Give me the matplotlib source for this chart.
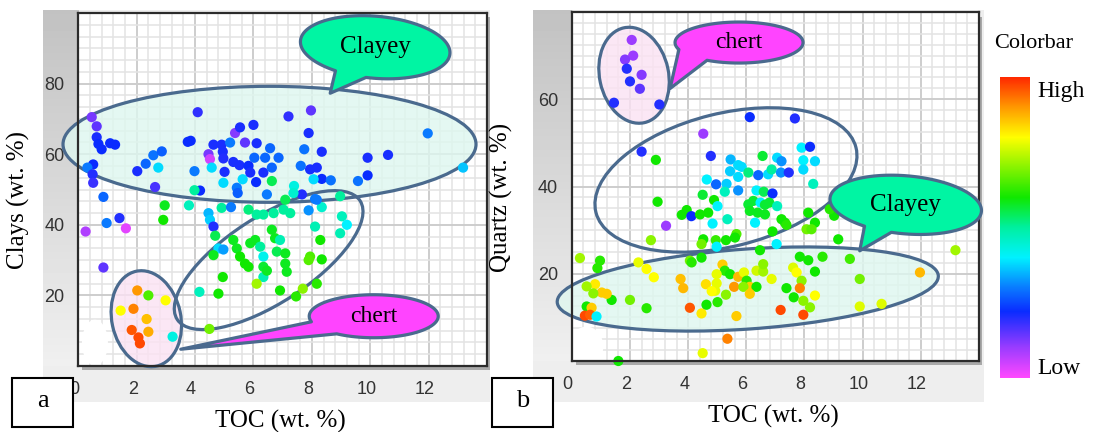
import numpy as np
import matplotlib
matplotlib.use("Agg")
import matplotlib.pyplot as plt
import matplotlib.transforms as mtransforms
from matplotlib.patches import Ellipse, Polygon, Rectangle
from matplotlib.colors import LinearSegmentedColormap
from matplotlib.ticker import MultipleLocator

W, H, DPI = 1094, 432, 100
SERIF = "Liberation Serif"
EDGE = "#4a6a8e"

# (a) TOC vs clays, colour = relative value (0 low .. 1 high)
toc_a = [0.46, 0.63, 0.63, 0.69, 0.80, 1.09, 1.26, 0.51, 0.31, 0.49, 0.51, 0.86, 1.41, 0.97, 0.25, 1.63,
         0.86, 2.02, 2.31, 2.57, 2.86, 2.74, 2.63, 4.09, 3.75, 3.85, 3.98, 4.17, 3.98, 4.46, 4.51, 4.57,
         4.63, 4.91, 4.95, 4.97, 5.01, 4.97, 5.20, 5.31, 5.37, 5.54, 5.52, 5.43, 5.46, 5.63, 5.71, 5.83,
         5.89, 6.00, 6.03, 6.11, 6.09, 6.34, 6.40, 6.57, 6.63, 6.86, 6.63, 6.46, 7.20, 7.39, 7.74, 7.62,
         7.89, 7.97, 7.94, 8.17, 8.34, 8.34, 8.65, 8.06, 9.58, 9.91, 9.91, 10.61, 11.97, 13.18, 7.66, 8.11,
         2.96, 2.91, 3.79, 4.46, 4.51, 4.63, 4.91, 5.23, 4.69, 4.80, 4.97, 4.63, 5.31, 5.43, 5.54, 5.71,
         5.83, 5.89, 6.06, 6.23, 6.34, 6.34, 6.63, 6.74, 6.80, 6.91, 7.09, 7.09, 7.14, 6.34, 6.11, 6.46,
         4.95, 4.80, 4.15, 4.49, 6.91, 7.46, 7.69, 8.17, 7.94, 7.89, 8.34, 8.29, 8.11, 7.89, 8.34, 8.17,
         9.03, 8.97, 9.20, 8.97, 6.11, 6.34, 6.69, 7.03, 7.26, 7.37, 7.09, 5.83,
         2.02, 2.40, 2.99, 1.45, 1.89, 2.34, 1.83, 2.40, 2.06, 2.11, 3.23]
clay_a = [70.5, 67.9, 64.8, 62.9, 61.4, 63.1, 62.7, 57.1, 56.2, 54.3, 51.9, 47.9, 41.9, 40.5, 38.1, 39.0,
          27.9, 55.2, 57.3, 59.7, 60.8, 56.2, 50.7, 71.9, 63.5, 63.8, 55.2, 49.7, 49.8, 60.0, 58.6, 56.2,
          62.7, 62.7, 60.7, 58.8, 55.0, 51.9, 63.3, 57.8, 66.0, 67.6, 56.9, 50.5, 49.0, 52.9, 63.3, 56.7,
          54.8, 68.3, 59.0, 63.1, 52.1, 54.8, 59.0, 61.7, 56.2, 59.0, 52.4, 48.6, 70.7, 51.0, 61.4, 56.7,
          66.0, 72.4, 55.7, 56.2, 60.7, 53.0, 52.6, 52.9, 52.4, 59.0, 54.0, 59.8, 65.9, 56.2, 48.6, 47.3,
          45.5, 41.4, 45.5, 43.3, 41.4, 39.5, 44.8, 45.0, 36.9, 33.3, 33.0, 31.4, 35.7, 33.3, 31.0, 29.0,
          28.1, 34.8, 35.7, 33.8, 31.0, 28.1, 38.6, 36.2, 32.4, 35.7, 31.9, 29.0, 26.7, 25.2, 23.3, 27.0,
          25.2, 20.5, 21.0, 10.5, 21.4, 19.7, 21.9, 23.3, 31.0, 30.0, 30.2, 35.7, 39.5, 44.1, 45.0, 47.1,
          42.4, 37.6, 40.0, 48.1, 42.9, 42.9, 43.3, 44.3, 43.3, 49.0, 47.1, 44.3,
          21.4, 20.0, 18.6, 15.7, 16.2, 13.3, 10.2, 9.7, 8.1, 6.4, 8.3]
col_a = [0.13, 0.15, 0.21, 0.22, 0.22, 0.22, 0.22, 0.22, 0.30, 0.20, 0.18, 0.28, 0.20, 0.30, 0.08, 0.03,
         0.15, 0.21, 0.28, 0.29, 0.27, 0.38, 0.17, 0.19, 0.22, 0.22, 0.30, 0.22, 0.50, 0.13, 0.05, 0.38,
         0.21, 0.21, 0.21, 0.20, 0.21, 0.38, 0.30, 0.21, 0.12, 0.21, 0.21, 0.30, 0.27, 0.38, 0.15, 0.22,
         0.21, 0.21, 0.28, 0.21, 0.22, 0.21, 0.28, 0.28, 0.28, 0.28, 0.55, 0.30, 0.19, 0.43, 0.29, 0.29,
         0.21, 0.15, 0.21, 0.21, 0.21, 0.22, 0.29, 0.38, 0.29, 0.21, 0.22, 0.21, 0.30, 0.36, 0.20, 0.30,
         0.58, 0.60, 0.47, 0.35, 0.37, 0.20, 0.50, 0.30, 0.55, 0.38, 0.33, 0.58, 0.58, 0.58, 0.60, 0.60,
         0.60, 0.58, 0.58, 0.50, 0.42, 0.57, 0.58, 0.58, 0.55, 0.48, 0.58, 0.58, 0.58, 0.48, 0.72, 0.58,
         0.60, 0.60, 0.47, 0.68, 0.60, 0.62, 0.70, 0.62, 0.65, 0.66, 0.60, 0.60, 0.48, 0.32, 0.45, 0.30,
         0.47, 0.48, 0.40, 0.50, 0.50, 0.50, 0.50, 0.50, 0.50, 0.45, 0.55, 0.52,
         0.90, 0.65, 0.80, 0.80, 0.92, 0.86, 0.96, 0.88, 0.97, 0.97, 0.43]

# (b) TOC vs quartz
toc_b = [2.06, 2.11, 1.83, 1.89, 2.40, 2.00, 2.34, 1.45, 3.01, 6.12, 7.67, 4.52, 2.40, 2.89, 4.78, 5.46,
         5.72, 5.84, 5.44, 5.72, 6.07, 6.56, 6.41, 6.75, 6.87, 7.06, 7.21, 7.19, 7.46, 7.90, 7.96, 8.19,
         8.36, 7.96, 8.30, 4.64, 4.96, 5.32, 5.72, 5.26, 6.35, 6.60, 6.90, 4.50, 4.89, 5.01, 6.07, 6.24,
         6.49, 6.64, 6.79, 7.06, 6.12, 6.39, 6.64, 3.78, 3.95, 4.11, 4.41, 4.69, 2.95, 5.35, 6.30, 7.21,
         7.33, 7.38, 3.24, 4.84, 5.66, 5.61, 6.90, 2.72, 4.52, 4.95, 5.30, 4.98, 7.04, 8.13, 8.36, 8.07,
         8.24, 9.02, 9.16, 8.87, 4.46, 6.47, 7.84, 8.13, 8.62, 9.56, 13.19, 0.28, 0.97, 0.88, 2.29, 2.57,
         2.82, 4.06, 4.12, 4.46, 5.18, 5.26, 5.44, 4.98, 3.74, 3.83, 4.61, 4.98, 4.93, 4.81, 5.58, 5.72,
         5.92, 6.01, 6.12, 5.90, 6.35, 6.35, 6.58, 6.58, 6.87, 6.12, 5.30, 5.01, 4.46, 4.63, 4.06, 5.66,
         5.35, 4.50, 2.57, 2.00, 1.37, 1.20, 1.03, 0.80, 0.51, 0.74, 0.51, 0.68, 0.45, 0.63, 0.85, 1.60,
         7.61, 7.73, 7.90, 7.84, 7.38, 7.63, 7.96, 8.19, 8.36, 8.36, 7.18, 7.96, 9.90, 9.90, 10.65, 11.97]
qtz_b = [73.6, 70.0, 69.1, 67.0, 65.6, 64.1, 62.4, 59.2, 58.8, 55.9, 55.6, 52.1, 48.0, 46.1, 47.0, 46.2,
         44.9, 44.5, 43.5, 42.2, 43.2, 47.0, 42.6, 42.8, 43.9, 46.6, 45.8, 43.2, 43.2, 48.9, 46.0, 49.1,
         45.8, 43.9, 40.6, 41.6, 40.5, 40.6, 39.1, 38.8, 39.1, 38.8, 38.4, 38.1, 36.9, 35.5, 35.9, 36.7,
         36.3, 35.8, 36.3, 35.5, 34.4, 34.0, 33.6, 33.5, 34.6, 33.2, 33.6, 34.0, 36.5, 32.5, 31.7, 32.5,
         31.7, 31.2, 31.0, 31.5, 29.1, 28.3, 29.7, 27.7, 27.9, 27.7, 27.7, 26.2, 26.8, 34.0, 31.7, 30.2,
         30.2, 33.3, 27.9, 34.8, 26.8, 25.4, 23.9, 23.1, 23.9, 23.4, 25.4, 23.6, 23.0, 21.3, 22.6, 21.1,
         19.2, 23.0, 22.6, 23.7, 22.1, 20.7, 19.9, 19.9, 18.8, 16.7, 17.6, 17.8, 16.1, 16.0, 17.0, 19.3,
         20.3, 18.4, 17.0, 17.0, 17.0, 20.7, 20.5, 22.2, 18.8, 15.4, 15.2, 13.5, 10.9, 12.9, 12.2, 10.3,
         5.1, 1.8, 12.1, 14.0, 14.0, 15.4, 15.7, 17.6, 17.1, 15.5, 12.5, 12.2, 10.4, 10.6, 10.2, 0.0,
         21.4, 20.3, 18.4, 16.7, 16.7, 14.6, 13.8, 12.3, 15.0, 20.5, 11.7, 10.6, 18.8, 12.5, 13.1, 20.3]
col_b = [0.10, 0.10, 0.12, 0.20, 0.12, 0.20, 0.15, 0.20, 0.20, 0.22, 0.20, 0.10, 0.20, 0.60, 0.20, 0.35,
         0.38, 0.38, 0.37, 0.38, 0.52, 0.57, 0.28, 0.38, 0.50, 0.38, 0.32, 0.32, 0.20, 0.40, 0.40, 0.22,
         0.38, 0.38, 0.47, 0.40, 0.28, 0.37, 0.32, 0.47, 0.40, 0.55, 0.22, 0.57, 0.60, 0.40, 0.57, 0.57,
         0.40, 0.57, 0.57, 0.47, 0.58, 0.58, 0.58, 0.60, 0.60, 0.22, 0.60, 0.60, 0.60, 0.47, 0.40, 0.60,
         0.60, 0.62, 0.10, 0.40, 0.65, 0.60, 0.60, 0.70, 0.60, 0.63, 0.60, 0.40, 0.40, 0.60, 0.60, 0.68,
         0.66, 0.60, 0.60, 0.62, 0.68, 0.60, 0.60, 0.60, 0.62, 0.64, 0.72, 0.72, 0.62, 0.62, 0.78, 0.80,
         0.80, 0.68, 0.62, 0.60, 0.85, 0.62, 0.60, 0.78, 0.86, 0.87, 0.83, 0.78, 0.78, 0.80, 0.90, 0.87,
         0.78, 0.62, 0.85, 0.70, 0.60, 0.76, 0.72, 0.70, 0.78, 0.85, 0.70, 0.62, 0.82, 0.60, 0.96, 0.85,
         0.92, 0.78, 0.62, 0.68, 0.60, 0.85, 0.85, 0.82, 0.72, 0.70, 0.60, 0.85, 0.97, 0.95, 0.40, 0.60,
         0.77, 0.80, 0.70, 0.92, 0.60, 0.60, 0.70, 0.70, 0.80, 0.60, 0.97, 0.97, 0.68, 0.77, 0.77, 0.87]

cmap = LinearSegmentedColormap.from_list("lowhigh", [
    (0.00, "#ff48ff"), (0.10, "#9a3cff"), (0.22, "#0a2cff"), (0.30, "#0a7cff"),
    (0.40, "#00f2ff"), (0.50, "#00f0a0"), (0.60, "#10e800"), (0.80, "#ffff00"),
    (0.90, "#ff9a00"), (1.00, "#ff2a00")])

fig = plt.figure(figsize=(W / DPI, H / DPI), dpi=DPI)


def box_px(x0, y0, x1, y1):
    # pixel box measured from the top-left corner -> figure fraction rect
    return [x0 / W, 1 - y1 / H, (x1 - x0) / W, (y1 - y0) / H]


def fig_rect(x0, y0, x1, y1, **kw):
    l, b, w, h = box_px(x0, y0, x1, y1)
    fig.add_artist(Rectangle((l, b), w, h, transform=fig.transFigure, **kw))


def anchor(ax, x, y):
    # sizes in inches, origin pinned to a data point
    return fig.dpi_scale_trans + mtransforms.ScaledTranslation(x, y, ax.transData)


def ring(ax, x, y, w, h, angle=0, face=None):
    if face:
        ax.add_patch(Ellipse((0, 0), w / DPI, h / DPI, angle=angle, transform=anchor(ax, x, y),
                             facecolor=face, edgecolor="none", alpha=0.8, zorder=1.2, clip_on=False))
    ax.add_patch(Ellipse((0, 0), w / DPI, h / DPI, angle=angle, transform=anchor(ax, x, y),
                         facecolor="none", edgecolor=EDGE, lw=2.3, zorder=1.8, clip_on=False))


def callout(ax, x, y, w, h, t1, t2, tip, label, face, tilt=0, size=17):
    t = np.radians(np.linspace(t2, t1 + 360, 180))
    ex, ey = w / 2 * np.cos(t), h / 2 * np.sin(t)
    r = np.radians(tilt)
    rx = ex * np.cos(r) - ey * np.sin(r)
    ry = ex * np.sin(r) + ey * np.cos(r)
    verts = np.column_stack([np.append(rx, tip[0]), np.append(ry, tip[1])]) / DPI
    ax.add_patch(Polygon(verts, closed=True, facecolor=face, edgecolor=EDGE, lw=2.3,
                         joinstyle="round", transform=anchor(ax, x, y), clip_on=False, zorder=4))
    ax.text(x, y, label, ha="center", va="center", fontsize=size, family=SERIF, zorder=5)


# grey chart frames, drop shadows and the shaded value strips
for x0, x1, ax_l, ax_r, ax_b in [(43, 490, 78.3, 487, 366), (533, 984, 571.8, 979, 361)]:
    fig_rect(x0, 10, x1, 402, facecolor="#eeeeee", edgecolor="none", zorder=-3)
    fig_rect(ax_l + 4, 17, ax_r + 3, ax_b + 4, facecolor="#a9a9a9", edgecolor="none", zorder=-2)
    g = fig.add_axes(box_px(x0, 10, ax_l, ax_b), zorder=-1)
    g.imshow(np.linspace(0.76, 0.94, 100)[:, None], cmap="gray", vmin=0, vmax=1, aspect="auto")
    g.axis("off")


def setup(ax, ymax, yminor, yticks):
    ax.set_xlim(0, 14)
    ax.set_ylim(0, ymax)
    ax.set_xticks(range(0, 13, 2))
    ax.set_yticks(yticks)
    ax.xaxis.set_minor_locator(MultipleLocator(0.4))
    ax.yaxis.set_minor_locator(MultipleLocator(yminor))
    ax.grid(which="major", color="#cdcdcd", lw=1.4)
    ax.grid(which="minor", color="#e3e3e3", lw=1.1)
    ax.set_axisbelow(True)
    ax.tick_params(which="both", length=0, labelsize=13, labelcolor="#333333",
                   labelfontfamily="Liberation Sans")
    ax.tick_params(axis="x", pad=11)
    ax.tick_params(axis="y", pad=10)
    for s in ax.spines.values():
        s.set_color("#2b2b2b")
        s.set_linewidth(1.6)
    shift = mtransforms.ScaledTranslation(-4 / DPI, 0, fig.dpi_scale_trans)
    for lbl in ax.get_xticklabels():
        lbl.set_transform(lbl.get_transform() + shift)


ax_a = fig.add_axes(box_px(78.3, 13, 487, 366), zorder=1)
ax_b = fig.add_axes(box_px(571.8, 12, 979, 361), zorder=1)
setup(ax_a, 100, 20 / 6, [20, 40, 60, 80])
setup(ax_b, 80, 2.5, [20, 40, 60])

ax_a.scatter(toc_a, clay_a, c=col_a, cmap=cmap, vmin=0, vmax=1, s=54, linewidths=0, zorder=2)
ax_b.scatter(toc_b, qtz_b, c=col_b, cmap=cmap, vmin=0, vmax=1, s=54, linewidths=0, zorder=2, clip_on=False)

# blank smudges in the lower-left corners
ax_a.add_patch(Ellipse((0, 0), 0.26, 0.46, transform=anchor(ax_a, 0.57, 6.6), facecolor="white",
                       edgecolor="none", zorder=1.1))
ax_b.add_patch(Ellipse((0, 0), 0.34, 0.40, transform=anchor(ax_b, 0.5, 3.3), facecolor="white",
                       edgecolor="none", zorder=1.1))

CLAY_FILL, CHERT_FILL = "#def7ef", "#fbe2f3"
ring(ax_a, 6.55, 62.8, 413, 116, 0, face=CLAY_FILL)
ring(ax_a, 6.52, 30.0, 218, 86, 33)
ring(ax_a, 2.33, 13.4, 97, 69, 102, face=CHERT_FILL)
callout(ax_a, 10.17, 90.3, 150, 62, 240, 265, (-45, -46), "Clayey", "#00f5a3", tilt=-5, size=18)
callout(ax_a, 10.12, 14.1, 129, 43, 195, 235, (-193, -33), "chert", "#ff44ff")

ring(ax_b, 5.30, 41.5, 268, 133, 14)
ring(ax_b, 6.05, 16.5, 382, 80, 4, face=CLAY_FILL)
ring(ax_b, 2.14, 65.5, 97, 69, 102, face=CHERT_FILL)
callout(ax_b, 5.75, 73.0, 128, 41, 200, 240, (-69, -46), "chert", "#ff44ff")
callout(ax_b, 11.48, 35.8, 152, 58, 239, 261, (-46, -46), "Clayey", "#00f5a3", tilt=-5, size=18)

for ax, xl, yl, ycoords in [(ax_a, "TOC (wt. %)", "Clays (wt. %)", (-0.118, 0.47)),
                            (ax_b, "TOC (wt. %)", "Quartz (wt. %)", (-0.144, 0.47))]:
    ax.set_xlabel(xl, fontsize=18, family=SERIF)
    ax.xaxis.set_label_coords(0.494, -0.125)
    ax.set_ylabel(yl, fontsize=18, family=SERIF)
    ax.yaxis.set_label_coords(*ycoords)

# panel letters
for x0, x1, letter in [(12, 73, "a"), (492, 553, "b")]:
    fig_rect(x0, 378, x1, 427, facecolor="white", edgecolor="black", lw=1.5, zorder=10)
    fig.text((x0 + x1) / 2 / W, 1 - 401 / H, letter, ha="center", va="center",
             fontsize=19, family=SERIF, zorder=11)

# colour scale
cb = fig.add_axes(box_px(1000, 77, 1030, 378))
cb.imshow(np.linspace(1, 0, 256)[:, None], cmap=cmap, vmin=0, vmax=1, aspect="auto")
cb.axis("off")
fig.text(1034 / W, 1 - 43 / H, "Colorbar", ha="center", va="center", fontsize=16, family=SERIF)
fig.text(1037 / W, 1 - 92 / H, "High", ha="left", va="center", fontsize=17, family=SERIF)
fig.text(1037 / W, 1 - 368 / H, "Low", ha="left", va="center", fontsize=17, family=SERIF)

fig.savefig("out.png", dpi=DPI)
